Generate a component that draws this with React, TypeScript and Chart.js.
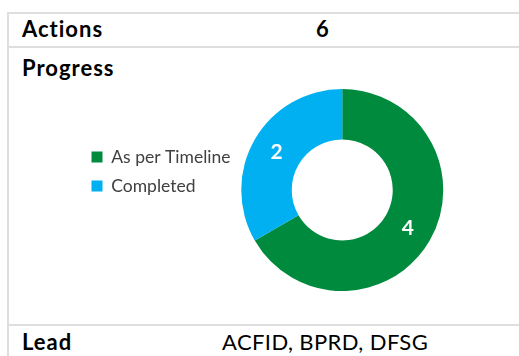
import React, { useEffect, useRef } from "react";
import { Chart, registerables } from "chart.js";

Chart.register(...registerables);

// Progress breakdown for the action group
const statusLabels: string[] = ["As per Timeline", "Completed"];
const statusCounts: number[] = [4, 2];
const statusColors: string[] = ["#008A3E", "#00B0F0"];

const totalActions = 6;
const leadAgencies: string[] = ["ACFID", "BPRD", "DFSG"];

const FONT = "Lato, 'Open Sans', sans-serif";
const LINE = "#DEDEDE";

// Writes each slice's value in the middle of its ring segment
const sliceValuePlugin = {
  id: "sliceValues",
  afterDatasetsDraw(chart: any) {
    const { ctx } = chart;
    const meta = chart.getDatasetMeta(0);
    const values = chart.data.datasets[0].data as number[];
    ctx.save();
    ctx.fillStyle = "#FFFFFF";
    ctx.font = `bold 21px ${FONT}`;
    ctx.textAlign = "center";
    ctx.textBaseline = "middle";
    meta.data.forEach((arc: any, i: number) => {
      const p = arc.tooltipPosition();
      ctx.fillText(String(values[i]), p.x, p.y);
    });
    ctx.restore();
  },
};

function ProgressDonut() {
  const canvasRef = useRef<HTMLCanvasElement | null>(null);

  useEffect(() => {
    if (!canvasRef.current) return;
    const chart = new Chart(canvasRef.current, {
      type: "doughnut",
      data: {
        labels: statusLabels,
        datasets: [
          {
            data: statusCounts,
            backgroundColor: statusColors,
            borderWidth: 0,
          },
        ],
      },
      options: {
        animation: false,
        responsive: false,
        maintainAspectRatio: false,
        cutout: "50%",
        layout: { padding: 0 },
        plugins: {
          tooltip: { enabled: false },
          legend: {
            display: true,
            position: "left",
            align: "start",
            // empty title only pushes the legend rows down
            title: {
              display: true,
              text: "",
              font: { size: 12, lineHeight: 1 },
              padding: { top: 35.75, bottom: 0 },
            },
            labels: {
              boxWidth: 11,
              boxHeight: 11,
              padding: 11.5,
              color: "#404040",
              font: { family: FONT, size: 17.5 },
            },
          },
        },
      },
      plugins: [sliceValuePlugin],
    });
    return () => chart.destroy();
  }, []);

  return (
    <canvas
      ref={canvasRef}
      width={364}
      height={202}
      style={{ position: "absolute", left: 80, top: 89, width: 364, height: 202 }}
    />
  );
}

const hLine = (top: number): React.CSSProperties => ({
  position: "absolute",
  left: 7,
  right: 0,
  top,
  height: 2,
  background: LINE,
});

const label = (left: number, top: number, bold: boolean): React.CSSProperties => ({
  position: "absolute",
  left,
  top,
  fontFamily: FONT,
  fontSize: 22,
  lineHeight: "26.4px",
  fontWeight: bold ? 700 : 400,
  letterSpacing: bold ? "1px" : "0.4px",
  color: "#000",
  whiteSpace: "nowrap",
});

export default function App() {
  return (
    <div
      style={{
        position: "fixed",
        left: 0,
        top: 0,
        width: 519,
        height: 356,
        overflow: "hidden",
        background: "#FFFFFF",
      }}
    >
      <div style={hLine(12)} />
      <div style={hLine(46)} />
      <div style={hLine(324)} />
      <div style={{ position: "absolute", left: 7, top: 12, width: 2, bottom: 0, background: LINE }} />

      <div style={label(22, 16, true)}>Actions</div>
      <div style={label(316, 16, true)}>{totalActions}</div>
      <div style={label(22, 55, true)}>Progress</div>
      <ProgressDonut />
      <div style={label(22, 328.5, true)}>Lead</div>
      <div style={label(222, 328.5, false)}>{leadAgencies.join(", ")}</div>
    </div>
  );
}
